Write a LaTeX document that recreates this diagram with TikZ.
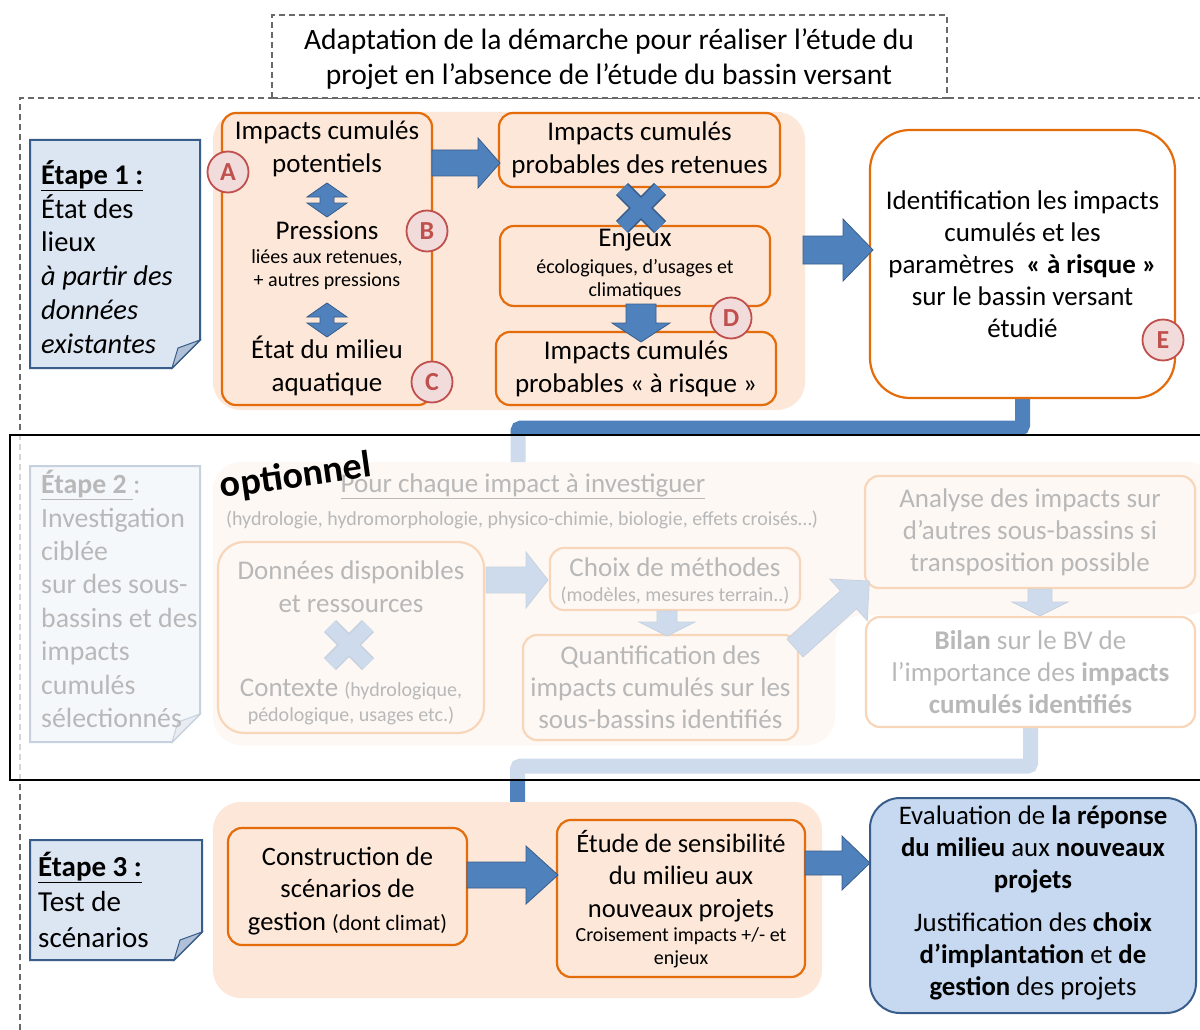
\documentclass[tikz,border=0pt]{standalone}
\usepackage{fontspec}
\setmainfont{Carlito}
\usetikzlibrary{calc}
\definecolor{orng}{RGB}{228,108,10}
\definecolor{peach}{RGB}{252,231,216}
\definecolor{bluA}{RGB}{79,129,189}
\definecolor{bluD}{RGB}{56,93,138}
\definecolor{noteF}{RGB}{220,230,242}
\definecolor{foldF}{RGB}{176,192,214}
\definecolor{circF}{RGB}{242,220,219}
\definecolor{circD}{RGB}{192,80,77}
\definecolor{finF}{RGB}{198,217,241}
\definecolor{dashG}{RGB}{105,105,105}
\newcommand\fsA{\fontsize{27}{33}\selectfont}
\newcommand\fsT{\fontsize{29.5}{35}\selectfont}
\newcommand\fsB{\fontsize{20}{23}\selectfont}
\newcommand\fsC{\fontsize{20}{23}\selectfont}
\pgfdeclarelayer{back}\pgfdeclarelayer{mid}\pgfdeclarelayer{over}\pgfdeclarelayer{top}
\pgfsetlayers{back,mid,main,over,top}
% block arrow: start, angle, length, shaft half, head half, head length
\newcommand\blockarr[6]{\draw[barr, shift={#1}, rotate=#2] (0,-#4) -- (#3-#6,-#4) -- (#3-#6,-#5) -- (#3,0) -- (#3-#6,#5) -- (#3-#6,#4) -- (0,#4) -- cycle;}
\newcommand\bluecross[2]{\begin{scope}[shift={#1}]
 \draw[bluD, line width=17pt] (-#2,-#2) -- (#2,#2) (-#2,#2) -- (#2,-#2);
 \draw[bluA, line width=14pt] (-#2,-#2) -- (#2,#2) (-#2,#2) -- (#2,-#2);
 \end{scope}}
\newcommand\udarrow[1]{\draw[barr, shift={#1}] (0,-17) -- (20,-3) -- (7,-3) -- (7,3) -- (20,3) -- (0,17) -- (-20,3) -- (-7,3) -- (-7,-3) -- (-20,-3) -- cycle;}
\newcommand\notebox[4]{\draw[fill=noteF, draw=bluD, line width=2pt] (#1,#2) -- (#3,#2) -- (#3,#4-28) -- (#3-28,#4) -- (#1,#4) -- cycle;
 \draw[fill=foldF, draw=bluD, line width=1pt] (#3,#4-28) -- (#3-28,#4) -- (#3-22,#4-20) -- cycle;}
\begin{document}
\begin{tikzpicture}[x=1pt,y=-1pt,
  ob/.style={draw=orng, line width=2.2pt, rounded corners=14pt, fill=peach, inner sep=0pt},
  tx/.style={align=center, inner sep=0pt, font=\fsA},
  circ/.style={circle, draw=circD, line width=1.8pt, fill=circF, minimum size=41pt, inner sep=0pt, text=circD, font=\fontsize{26}{26}\selectfont\bfseries},
  barr/.style={fill=bluA, draw=bluD, line width=0.8pt},
  dsh/.style={draw=dashG, line width=1.4pt, dash pattern=on 6pt off 4pt},
  bgp/.style={fill=peach, rounded corners=28pt},
  conn/.style={draw=bluA, line width=15pt, rounded corners=3pt}
]
\useasboundingbox (0,0) rectangle (1200,1030);
\begin{pgfonlayer}{back}
\fill[white] (0,0) rectangle (1200,1030);
\draw[dsh] (20,1040) -- (20,98) -- (1210,98);
\node[dsh, fill=white, minimum width=675pt, minimum height=83pt, inner sep=0pt] (titlebox) at (609.5,56.5) {};
% backgrounds
\fill[bgp] (213,112) rectangle (805,410);
\fill[bgp] (213,462) -- (1215,462) -- (1215,615) -- (835,615) -- (835,745) -- (213,745) -- cycle;
\node[bgp, minimum width=609pt, minimum height=196pt, inner sep=0pt] (s3bg) at (517.5,900) {};
\end{pgfonlayer}

\node[tx, font=\fsT] (title) at (609,59) {Adaptation de la démarche pour réaliser l’étude du\\projet en l’absence de l’étude du bassin versant};

% ---------------- Step 1
\notebox{30}{140}{200}{368}
\node[tx, align=left, anchor=west, font=\fontsize{28.5}{33.8}\selectfont] (n1) at (41,257) {\underline{\textbf{Étape 1 :}}\\État des\\lieux\\\textit{à partir des}\\\textit{données}\\\textit{existantes}};

\node[ob, minimum width=210pt, minimum height=292pt] (left) at (327,259) {};
\node[tx] (ic) at (327,149) {Impacts cumulés\\potentiels};
\node[tx] (pr) at (327,230) {Pressions};
\node[tx, font=\fsB] (prs) at (327,270) {liées aux retenues,\\+ autres pressions};
\node[tx] (em) at (327,366) {État du milieu\\aquatique};
\udarrow{(327,200)}
\udarrow{(327,320)}

\node[ob, tx, minimum width=281pt, minimum height=74pt] (prob) at (639.5,150) {Impacts cumulés\\probables des retenues};
\node[ob, minimum width=270pt, minimum height=80pt] (enj) at (635,266) {};
\node[tx] (enjt) at (635,240) {Enjeux};
\node[tx, font=\fsC] (enjs) at (635,280) {écologiques, d’usages et\\climatiques};
\node[ob, tx, minimum width=280pt, minimum height=73pt] (risq) at (636,368.5) {Impacts cumulés\\probables « à risque »};
\node[draw=orng, line width=2.2pt, rounded corners=40pt, fill=white, minimum width=305pt, minimum height=268pt, tx, font=\fontsize{27}{32}\selectfont] (Ebox) at (1022.5,264) {Identification les impacts\\cumulés et les\\paramètres \ \textbf{« à risque »}\\sur le bassin versant\\étudié};

\blockarr{(432,163)}{0}{68}{13}{25}{22}
\bluecross{(641,208)}{19}
\blockarr{(641,304)}{-90}{38}{15}{29}{19}
\blockarr{(803,250)}{0}{70}{14}{31}{30}

\node[circ] (cA) at (228,172) {A};
\node[circ] (cB) at (427,231) {B};
\node[circ] (cC) at (432,382) {C};
\node[circ] (cD) at (731,318) {D};
\node[circ] (cE) at (1163,340) {E};

% ---------------- Step 2
\coordinate (s2in) at (518,462);
\notebox{30}{466}{200}{742}
\node[tx, align=left, anchor=west, font=\fontsize{27.8}{33.4}\selectfont] (n2) at (41,599) {\underline{\textbf{Étape 2} }:\\Investigation\\ciblée\\sur des sous-\\bassins et des\\impacts\\cumulés\\sélectionnés};
\node[tx] (pci) at (523,486) {\underline{Pour chaque impact à investiguer}};
\node[tx, font=\fsB] (hyd) at (522,520) {(hydrologie, hydromorphologie, physico-chimie, biologie, effets croisés…)};
\node[ob, rounded corners=26pt, minimum width=266pt, minimum height=191pt] (don) at (351,637.5) {};
\node[tx] (dont) at (351,587) {Données disponibles\\et ressources};
\bluecross{(349,645)}{19}
\node[tx] (ctx) at (351,689) {Contexte {\fsB(hydrologique,}};
\node[tx, font=\fsB] (ctx2) at (351,716) {pédologique, usages etc.)};
\node[ob, minimum width=250pt, minimum height=62pt] (choix) at (675,579) {};
\node[tx] (cht) at (675,567) {Choix de méthodes};
\node[tx, font=\fsC] (chs) at (675,596) {(modèles, mesures terrain..)};
\node[ob, tx, font=\fontsize{27}{32}\selectfont, minimum width=275pt, minimum height=105pt] (quant) at (660.5,687.5) {Quantification des\\impacts cumulés sur les\\sous-bassins identifiés};
\node[ob, tx, font=\fontsize{27}{32}\selectfont, minimum width=330pt, minimum height=112pt] (ana) at (1030,532) {Analyse des impacts sur\\d’autres sous-bassins si\\transposition possible};
\node[ob, tx, fill=white, font=\fontsize{27}{32}\selectfont, minimum width=329pt, minimum height=110pt] (bilan) at (1030.5,672) {\textbf{Bilan} sur le BV de\\l’importance des \textbf{impacts}\\\textbf{cumulés identifiés}};
\blockarr{(486,580)}{0}{62}{13}{28}{22}
\blockarr{(667,611)}{-90}{25}{10}{28}{14}
\blockarr{(795,648)}{42}{100}{12}{28}{28}
\blockarr{(1040,589)}{-90}{27}{12}{28}{14}

% ---------------- Connectors
\begin{pgfonlayer}{mid}
\draw[conn] (Ebox.south) -- ++(0,29) -| (s2in);
\draw[conn] (bilan.south) -- ++(0,38) -| (s3bg.north);
\end{pgfonlayer}

% ---------------- Step 3
\notebox{30}{840}{202}{960}
\node[tx, align=left, anchor=west, font=\fontsize{29}{35.5}\selectfont] (n3) at (38,899.5) {\underline{\textbf{Étape 3 :}}\\Test de\\scénarios};
\node[ob, minimum width=239pt, minimum height=117pt] (cons) at (347.5,886.5) {};
\node[tx, font=\fontsize{26.5}{32.5}\selectfont] (const) at (347.5,891) {Construction de\\scénarios de\\gestion {\fontsize{22}{32.5}\selectfont(dont climat)}};
\node[ob, minimum width=248pt, minimum height=157pt] (etu) at (681,898.5) {};
\node[tx, font=\fontsize{26.5}{32.5}\selectfont] (etut) at (681,876) {Étude de sensibilité\\du milieu aux\\nouveaux projets};
\node[tx, font=\fsC] (etus) at (681,948) {Croisement impacts +/- et\\enjeux};
\node[draw=bluD, line width=2pt, rounded corners=30pt, fill=finF, minimum width=326pt, minimum height=215pt] (fin) at (1033,905.5) {};
\node[tx, font=\fontsize{26.8}{32}\selectfont] (fint) at (1033,903) {Evaluation de \textbf{la réponse}\\\textbf{du milieu} aux \textbf{nouveaux}\\\textbf{projets}\\[11pt]Justification des \textbf{choix}\\\textbf{d’implantation} et \textbf{de}\\\textbf{gestion} des projets};
\blockarr{(467,875)}{0}{91}{13}{29}{32}
\blockarr{(805,863)}{0}{65}{12}{27}{28}

% ---------------- overlay for optional step
\begin{pgfonlayer}{over}
\fill[white, opacity=0.72] (10,435) rectangle (1210,780);
\end{pgfonlayer}
\begin{pgfonlayer}{top}
\draw[black, line width=1.3pt] (1210,435) -- (10,435) -- (10,780) -- (1210,780);
\node[font=\fontsize{38}{38}\selectfont\bfseries, rotate=8, inner sep=0pt] (opt) at (296,477) {optionnel};
\end{pgfonlayer}
\end{tikzpicture}
\end{document}
